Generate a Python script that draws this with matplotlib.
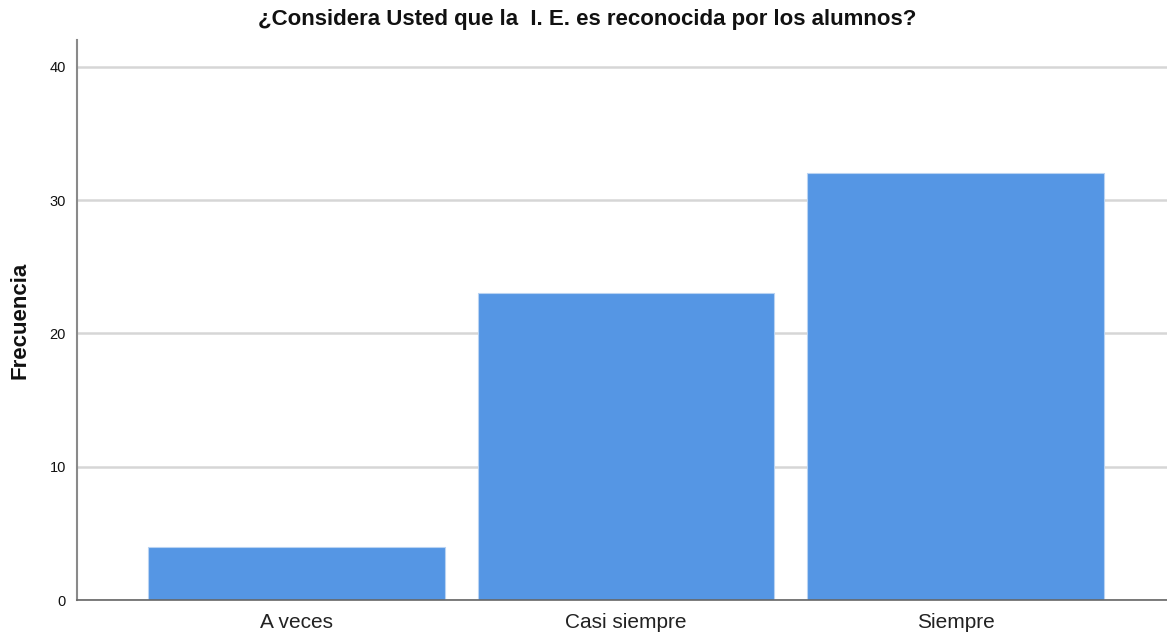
import matplotlib
matplotlib.use("Agg")
import matplotlib.pyplot as plt

categories = ["A veces", "Casi siempre", "Siempre"]
frecuencias = [4, 23, 32]
yticks = [0, 10, 20, 30, 40]

fig = plt.figure(figsize=(11.67, 6.35), dpi=100)
ax = fig.add_axes([77 / 1167, 1 - 600 / 635, 1 - 77 / 1167, (600 - 40) / 635])

pos = list(range(len(categories)))
ax.bar(pos, frecuencias, width=0.9, color="#5596E4", edgecolor="#B9D3F2",
       linewidth=0.8, zorder=3)

ax.set_xlim(-0.666, 2.642)
ax.set_ylim(0, 42)
ax.set_yticks(yticks)
ax.set_xticks(pos)
ax.set_xticklabels(categories, fontsize=15, family="Liberation Sans", color="#222222")
ax.tick_params(axis="both", length=0)
ax.tick_params(axis="y", labelsize=10.5, pad=8, labelcolor="#111111")
ax.tick_params(axis="x", pad=9)
for lbl in ax.get_yticklabels():
    lbl.set_family("Liberation Sans")

ax.yaxis.grid(True, color="#D6D6D6", linewidth=1.8, zorder=0)
ax.set_axisbelow(True)

for s in ["top", "right"]:
    ax.spines[s].set_visible(False)
ax.spines["left"].set_color("#8A8A8A")
ax.spines["left"].set_linewidth(1.5)
ax.spines["bottom"].set_color("#666666")
ax.spines["bottom"].set_linewidth(1.2)
ax.spines["bottom"].set_zorder(4)

fig.text(587 / 1167, 1 - 20 / 635, "¿Considera Usted que la  I. E. es reconocida por los alumnos?",
         ha="center", va="center", fontsize=16, fontweight="bold",
         family="Liberation Sans", color="#111111")
fig.text(20 / 1167, 1 - 320 / 635, "Frecuencia", rotation=90, ha="center", va="center",
         fontsize=16, fontweight="bold", family="Liberation Sans", color="#111111")

fig.savefig("out.png", dpi=100)
